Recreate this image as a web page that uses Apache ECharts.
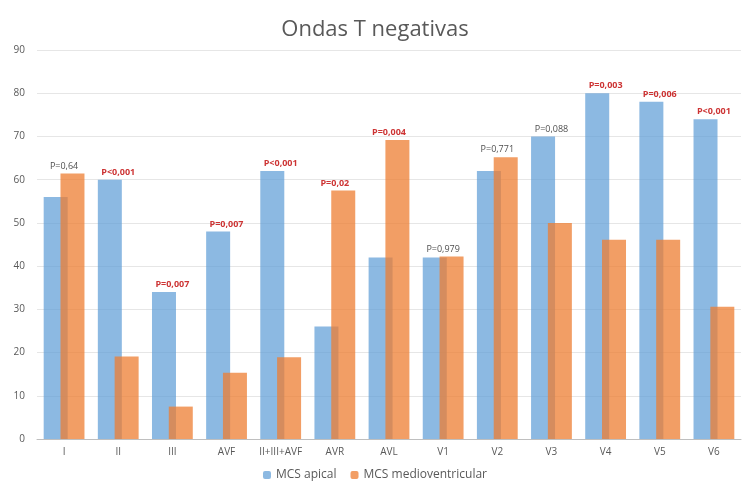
<!DOCTYPE html>
<html><head><meta charset="utf-8">
<script src="https://cdn.jsdelivr.net/npm/echarts@6/dist/echarts.min.js"></script>
<style>html,body{margin:0;padding:0;background:#fff}#c{width:750px;height:489px}</style>
</head><body><div id="c"></div>
<script>
const categories = ['I','II','III','AVF','II+III+AVF','AVR','AVL','V1','V2','V3','V4','V5','V6'];
const apical = [56,60,34,48,62,26,42,42,62,70,80,78,74];
const medioventricular = [61.4,19.1,7.5,15.3,18.9,57.5,69.2,42.2,65.2,50,46.1,46.1,30.6];
const pValues = ['P=0,64','P<0,001','P=0,007','P=0,007','P<0,001','P=0,02','P=0,004','P=0,979','P=0,771','P=0,088','P=0,003','P=0,006','P<0,001'];
const significant = [false,true,true,true,true,true,true,false,false,false,true,true,true];
const yTicks = {min:0, max:90, interval:10};

const labelData = categories.map((c,i)=>({
  value: Math.max(apical[i], medioventricular[i]),
  label: {
    formatter: pValues[i],
    color: significant[i] ? '#C00000' : '#1a1a1a',
    fontWeight: significant[i] ? 'bold' : 'normal'
  }
}));

const chart = echarts.init(document.getElementById('c'));
const font = '"Open Sans", "Noto Sans", sans-serif';
chart.setOption({
  animation:false,
  textStyle:{fontFamily:font},
  title:{text:'Ondas T negativas', left:'center', top:14,
    textStyle:{fontSize:22, fontWeight:'normal', color:'#595959', fontFamily:font}},
  grid:{left:37, right:9, top:50, bottom:50},
  legend:{bottom:3, left:'center', itemWidth:8, itemHeight:8, itemGap:14,
    textStyle:{fontSize:12, color:'#595959'},
    data:['MCS apical','MCS medioventricular']},
  xAxis:{type:'category', data:categories,
    axisLine:{lineStyle:{color:'#bfbfbf'}}, axisTick:{show:false},
    axisLabel:{color:'#595959', fontSize:10, margin:8, interval:0}},
  yAxis:{type:'value', min:yTicks.min, max:yTicks.max, interval:yTicks.interval,
    axisLabel:{color:'#595959', fontSize:10, margin:12},
    splitLine:{lineStyle:{color:'#e6e6e6'}}},
  series:[
    {name:'MCS apical', type:'bar', data:apical, barWidth:24, barGap:'-30%',
      itemStyle:{color:'rgba(91,155,213,0.7)'}},
    {name:'MCS medioventricular', type:'bar', data:medioventricular, barWidth:24,
      itemStyle:{color:'rgba(237,125,49,0.75)'}},
    {name:'p', type:'scatter', data:labelData, symbolSize:0, silent:true,
      label:{show:true, position:'top', distance:3, fontSize:9}}
  ]
});
</script></body></html>
